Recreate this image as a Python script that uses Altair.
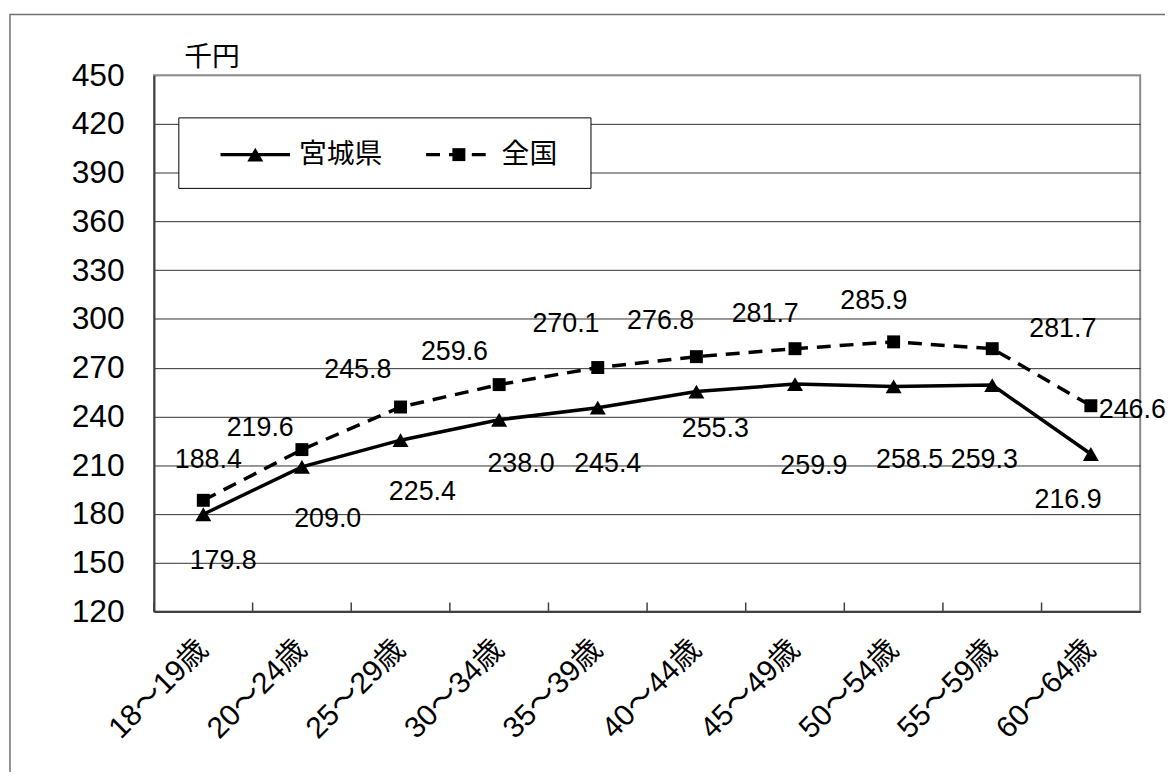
import altair as alt
import pandas as pd

categories = ["18～19歳", "20～24歳", "25～29歳", "30～34歳", "35～39歳",
              "40～44歳", "45～49歳", "50～54歳", "55～59歳", "60～64歳"]
miyagi = [179.8, 209.0, 225.4, 238.0, 245.4, 255.3, 259.9, 258.5, 259.3, 216.9]
zenkoku = [188.4, 219.6, 245.8, 259.6, 270.1, 276.8, 281.7, 285.9, 281.7, 246.6]
y_ticks = [120, 150, 180, 210, 240, 270, 300, 330, 360, 390, 420, 450]
series_names = ["宮城県", "全国"]
unit_label = "千円"

# label offsets (pixels) relative to each point
miyagi_dx = [20, 26, 22, 22, 10, 19, 19, 16, -8, -23]
miyagi_dy = [47, 53, 52, 45, 57, 38, 83, 74, 75, 46]
zenkoku_dx = [5, -42, -43, -45, -32, -36, -30, -20, 71, 8]
zenkoku_dy = [-41, -22, -37, -33, -44, -36, -35, -41, -20, 4]

FONT = "Liberation Sans, Noto Sans CJK JP"
FS = 28
XFS = 30
LFS = 27
YFS = 32

df = pd.DataFrame({
    "cat": categories * 2,
    "value": miyagi + zenkoku,
    "series": [series_names[0]] * len(categories) + [series_names[1]] * len(categories),
    "idx": list(range(len(categories))) * 2,
})

xband = alt.Scale(type="band", domain=categories, paddingInner=0, paddingOuter=0)
yscale = alt.Scale(domain=[120, 450], nice=False, zero=False)

X = lambda **kw: alt.X("cat:N", scale=xband, sort=categories, **kw)
Y = lambda **kw: alt.Y("value:Q", scale=yscale, **kw)

base = alt.Chart(df)

one = alt.Data(values=[{"a": 1}])

frame = alt.Chart(one).mark_rect(fillOpacity=0, stroke="#707070", strokeWidth=1.5).encode(
    x=alt.value(-145), x2=alt.value(1030), y=alt.value(-61), y2=alt.value(720)
)

axis_layer = base.mark_line(opacity=0).encode(
    x=X(bandPosition=0.5, axis=alt.Axis(
        title=None, labelAngle=315, labelAlign="right", labelBaseline="middle",
        labelPadding=33, labelFont=FONT, labelFontSize=XFS, labelColor="black",
        ticks=False, domainColor="#404040", domainWidth=2, grid=False, labelOverlap=False)),
    y=Y(axis=alt.Axis(
        values=y_ticks, title=unit_label, titleAngle=0, titleAlign="left",
        titleBaseline="bottom", titleX=30, titleY=-4, titleFont=FONT,
        titleFontSize=FS, titleFontWeight="normal", titleColor="black",
        labelFont=FONT, labelFontSize=YFS, labelColor="black", labelPadding=30,
        ticks=False, domainColor="#404040", domainWidth=2,
        gridColor={"condition": {"test": "datum.value == 450", "value": "#909090"}, "value": "#303030"},
        gridWidth=1)),
)

xticks = base.transform_filter("datum.series == '宮城県'").mark_rule(
    color="#404040", strokeWidth=1.5).encode(
    x=X(bandPosition=0), y=alt.value(531), y2=alt.value(540))

legend_box = alt.Chart(one).mark_rect(fill="white", stroke="black", strokeWidth=1).encode(
    x=alt.value(25), x2=alt.value(440), y=alt.value(43), y2=alt.value(114))
leg_l1 = alt.Chart(one).mark_rule(color="black", strokeWidth=3.5).encode(
    x=alt.value(67), x2=alt.value(137), y=alt.value(80))
leg_p1 = alt.Chart(one).mark_point(shape="triangle-up", filled=True, color="black", size=260, opacity=1).encode(
    x=alt.value(102), y=alt.value(80))
leg_t1 = alt.Chart(one).mark_text(text=series_names[0], align="left", baseline="middle",
                                   font=FONT, fontSize=FS, color="black").encode(
    x=alt.value(146), y=alt.value(80))
leg_l2 = alt.Chart(one).mark_rule(color="black", strokeWidth=3.5, strokeDash=[14, 9]).encode(
    x=alt.value(274), x2=alt.value(338), y=alt.value(80))
leg_p2 = alt.Chart(one).mark_point(shape="square", filled=True, color="black", size=170, opacity=1).encode(
    x=alt.value(307), y=alt.value(80))
leg_t2 = alt.Chart(one).mark_text(text=series_names[1], align="left", baseline="middle",
                                   font=FONT, fontSize=FS, color="black").encode(
    x=alt.value(350), y=alt.value(80))

m_df = base.transform_filter("datum.series == '宮城県'")
z_df = base.transform_filter("datum.series == '全国'")

line_m = m_df.mark_line(color="black", strokeWidth=3.5).encode(x=X(bandPosition=0.5), y=Y())
line_z = z_df.mark_line(color="black", strokeWidth=3.5, strokeDash=[14, 9]).encode(x=X(bandPosition=0.5), y=Y())
pts_m = m_df.mark_point(shape="triangle-up", filled=True, color="black", size=260, opacity=1).encode(
    x=X(bandPosition=0.5), y=Y())
pts_z = z_df.mark_point(shape="square", filled=True, color="black", size=170, opacity=1).encode(
    x=X(bandPosition=0.5), y=Y())

labels = []
for i in range(len(categories)):
    labels.append(
        m_df.transform_filter(f"datum.idx == {i}").mark_text(
            dx=miyagi_dx[i], dy=miyagi_dy[i], font=FONT, fontSize=LFS, color="black",
            baseline="middle", align="center").encode(
            x=X(bandPosition=0.5), y=Y(), text=alt.Text("value:Q", format=".1f")))
    labels.append(
        z_df.transform_filter(f"datum.idx == {i}").mark_text(
            dx=zenkoku_dx[i], dy=zenkoku_dy[i], font=FONT, fontSize=LFS, color="black",
            baseline="middle", align="left" if i == len(categories) - 1 else "center").encode(
            x=X(bandPosition=0.5), y=Y(), text=alt.Text("value:Q", format=".1f")))

chart = alt.layer(
    frame, axis_layer, xticks, legend_box, leg_l1, leg_p1, leg_t1, leg_l2, leg_p2, leg_t2,
    line_z, line_m, pts_z, pts_m, *labels
).properties(
    width=993, height=540,
    autosize=alt.AutoSizeParams(type="none"),
    padding={"left": 147, "top": 65, "right": 25, "bottom": 159},
    background="white",
).configure_view(stroke="#888888", strokeWidth=2)

chart.save("out.html", embed_options={"renderer": "svg", "actions": False})
